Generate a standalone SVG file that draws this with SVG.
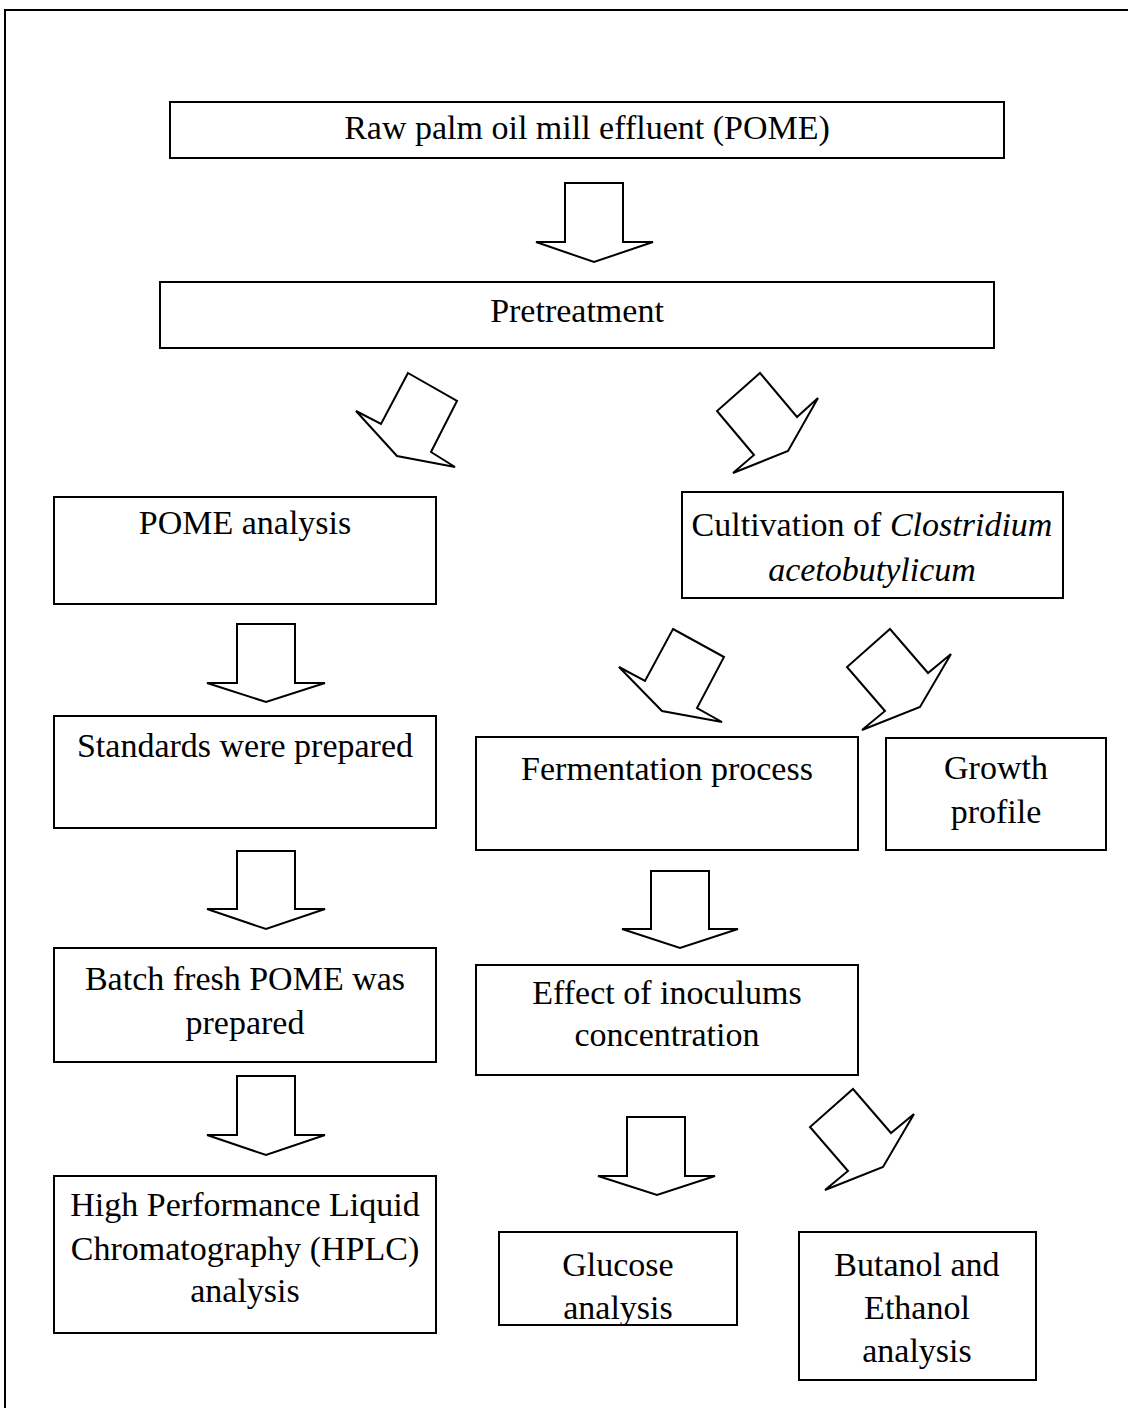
<svg xmlns="http://www.w3.org/2000/svg" width="1128" height="1408" viewBox="0 0 1128 1408">
<style>
.box{fill:#fff;stroke:#000;stroke-width:2}
.arr{fill:#fff;stroke:#000;stroke-width:2;stroke-linejoin:miter}
text{font-family:"Liberation Serif","Times New Roman",serif;font-size:34px;fill:#000;text-anchor:middle}
.it{font-style:italic}
</style>
<rect width="1128" height="1408" fill="#fff"/>
<path d="M5,1408 V10 H1128" fill="none" stroke="#000" stroke-width="2"/>
<g id="connectors">
<polygon class="arr" points="565,183 623,183 623,242 653,242 594,262 536,242 565,242"/>
<polygon class="arr" points="408,373 457,401 431,452 455,467 397,456 356,411 381,424"/>
<polygon class="arr" points="760,373 797,417 818,398 788,451 733,473 754,455 717,411"/>
<polygon class="arr" points="237,624 295,624 295,683 325,683 266,702 207,683 237,683"/>
<polygon class="arr" points="673,629 724,657 697,708 722,722 662,711 619,667 645,681"/>
<polygon class="arr" points="890,629 928,673 951,654 920,707 862,730 885,711 847,667"/>
<polygon class="arr" points="237,851 295,851 295,909 325,909 266,929 207,909 237,909"/>
<polygon class="arr" points="651,871 709,871 709,929 738,929 680,948 622,929 651,929"/>
<polygon class="arr" points="237,1076 295,1076 295,1135 325,1135 266,1155 207,1135 237,1135"/>
<polygon class="arr" points="627,1117 685,1117 685,1176 715,1176 657,1195 598,1176 627,1176"/>
<polygon class="arr" points="853,1089 891,1133 914,1114 883,1167 825,1190 848,1171 810,1127"/>
</g>
<g id="n1"><rect class="box" x="170" y="102" width="834" height="56"/><text x="587" y="139">Raw palm oil mill effluent (POME)</text></g>
<g id="n2"><rect class="box" x="160" y="282" width="834" height="66"/><text x="577" y="322">Pretreatment</text></g>
<g id="n3"><rect class="box" x="54" y="497" width="382" height="107"/><text x="245" y="534">POME analysis</text></g>
<g id="n4"><rect class="box" x="682" y="492" width="381" height="106"/><text x="872" y="536">Cultivation of <tspan class="it">Clostridium</tspan></text><text class="it" x="872" y="581">acetobutylicum</text></g>
<g id="n5"><rect class="box" x="54" y="716" width="382" height="112"/><text x="245" y="757">Standards were prepared</text></g>
<g id="n6"><rect class="box" x="476" y="737" width="382" height="113"/><text x="667" y="780">Fermentation process</text></g>
<g id="n7"><rect class="box" x="886" y="738" width="220" height="112"/><text x="996" y="779">Growth</text><text x="996" y="823">profile</text></g>
<g id="n8"><rect class="box" x="54" y="948" width="382" height="114"/><text x="245" y="990">Batch fresh POME was</text><text x="245" y="1034">prepared</text></g>
<g id="n9"><rect class="box" x="476" y="965" width="382" height="110"/><text x="667" y="1004">Effect of inoculums</text><text x="667" y="1046">concentration</text></g>
<g id="n10"><rect class="box" x="54" y="1176" width="382" height="157"/><text x="245" y="1216">High Performance Liquid</text><text x="245" y="1260">Chromatography (HPLC)</text><text x="245" y="1302">analysis</text></g>
<g id="n11"><rect class="box" x="499" y="1232" width="238" height="93"/><text x="618" y="1276">Glucose</text><text x="618" y="1319">analysis</text></g>
<g id="n12"><rect class="box" x="799" y="1232" width="237" height="148"/><text x="917" y="1276">Butanol and</text><text x="917" y="1319">Ethanol</text><text x="917" y="1362">analysis</text></g>
</svg>
